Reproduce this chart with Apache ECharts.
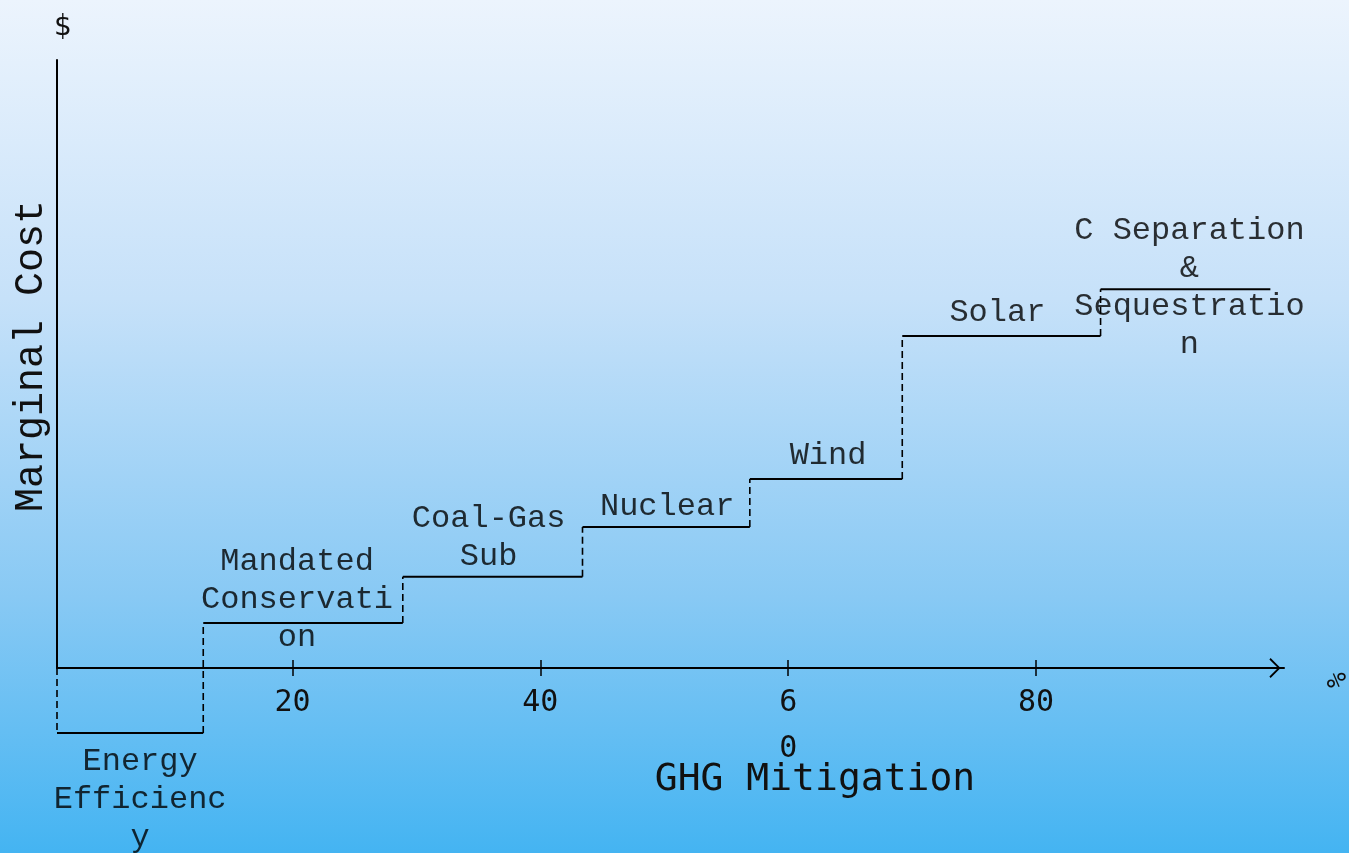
<!DOCTYPE html>
<html><head><meta charset="utf-8">
<script src="https://cdn.jsdelivr.net/npm/echarts@6/dist/echarts.min.js"></script>
<style>
html,body{margin:0;padding:0;width:100%;height:100%;overflow:hidden}
#c{width:1349px;height:853px;background:linear-gradient(to bottom,#ecf4fd 0%,#c6e1f9 35%,#88c9f4 70%,#44b4f2 100%);}
</style></head><body><div id="c"></div>
<script>
// ---- data ----
const techNames = [
  'Energy\nEfficienc\ny',
  'Mandated\nConservati\non',
  'Coal-Gas\nSub',
  'Nuclear',
  'Wind',
  'Solar',
  'C Separation\n&\nSequestratio\nn'
];
const stepBreaks = [1, 12.8, 28.9, 43.4, 56.9, 69.2, 85.2, 98.9];   // % GHG mitigation
const marginalCosts = [-10.7, 7.4, 15.0, 23.2, 31.1, 54.6, 62.3];   // $ (relative)
const tickValues = [20, 40, 60, 80];
const tickLabels = ['20', '40', '6\n0', '80'];

// ---- label styling (not data) ----
const labelStyles = [
  {position: 'bottom', distance: 9, offset: [10, 0]},
  {position: 'inside', offset: [-6, -23]},
  {position: 'top', distance: 1, offset: [-4, 0]},
  {position: 'top', distance: 1, offset: [1, 0]},
  {position: 'top', distance: 4, offset: [2, 0]},
  {position: 'top', distance: 5, offset: [-4, 0]},
  {position: 'inside', offset: [4, -2]}
];

const chart = echarts.init(document.getElementById('c'), null, {renderer: 'canvas'});

const series = [];
// horizontal solid steps
marginalCosts.forEach((c, i) => {
  series.push({
    type: 'line', symbol: 'none', silent: true, clip: false, animation: false,
    lineStyle: {color: '#000', width: 2, type: 'solid'},
    data: [[stepBreaks[i], c], [stepBreaks[i + 1], c]]
  });
});
// vertical dashed risers
marginalCosts.forEach((c, i) => {
  const from = i === 0 ? 0 : marginalCosts[i - 1];
  series.push({
    type: 'line', symbol: 'none', silent: true, clip: false, animation: false,
    lineStyle: {color: '#000', width: 1.6, type: [7, 4]},
    data: [[stepBreaks[i], from], [stepBreaks[i], c]]
  });
});
// labels
series.push({
  type: 'scatter', symbolSize: 0, silent: true, clip: false, animation: false,
  data: techNames.map((name, i) => ({
    value: [(stepBreaks[i] + stepBreaks[i + 1]) / 2, marginalCosts[i]],
    label: Object.assign({
      show: true, formatter: name, color: '#000',
      fontFamily: 'Liberation Mono', fontSize: 32, lineHeight: 38, align: 'center'
    }, labelStyles[i])
  }))
});

const tickMap = {};
tickValues.forEach((v, i) => tickMap[v] = tickLabels[i]);

chart.setOption({
  backgroundColor: 'transparent',
  animation: false,
  grid: {left: 57, right: 65, top: 60, bottom: 185, containLabel: false},
  xAxis: [{
    type: 'value', min: 1, max: 100, position: 'bottom',
    axisLine: {show: true, onZero: false, lineStyle: {color: '#000', width: 2},
      symbol: ['none', 'path://M0,10 L10,0 L20,10 L18.6,11.2 L10,2.6 L1.4,11.2 Z'],
      symbolSize: [20, 14], symbolOffset: [0, -9]},
    axisTick: {show: true, inside: false, length: 8, lineStyle: {color: '#000', width: 1.5},
      customValues: tickValues},
    axisLabel: {show: true, customValues: tickValues, margin: 12,
      formatter: v => tickMap[v] || '', color: '#111',
      fontFamily: 'DejaVu Sans Mono', fontSize: 30, lineHeight: 46},
    splitLine: {show: false}
  }, {
    type: 'value', min: 1, max: 100, position: 'bottom',
    axisLine: {show: false},
    axisTick: {show: true, inside: true, length: 8, lineStyle: {color: '#000', width: 1.5},
      customValues: tickValues},
    axisLabel: {show: false},
    splitLine: {show: false}
  }],
  yAxis: {
    type: 'value', min: 0, max: 100,
    axisLine: {show: true, onZero: false, lineStyle: {color: '#000', width: 2}},
    axisTick: {show: false}, axisLabel: {show: false}, splitLine: {show: false}
  },
  graphic: [
    {type: 'text', x: 63, y: 28, style: {text: '$', fill: '#111', font: '28px "DejaVu Sans"', align: 'center', verticalAlign: 'middle'}},
    {type: 'text', x: 31, y: 356, rotation: Math.PI / 2, style: {text: 'Marginal Cost', fill: '#111', font: '40px "Liberation Mono"', align: 'center', verticalAlign: 'middle'}},
    {type: 'text', x: 815, y: 780, style: {text: 'GHG Mitigation', fill: '#111', font: '38px "DejaVu Sans Mono"', align: 'center', verticalAlign: 'middle'}},
    {type: 'text', x: 1334, y: 680, rotation: -Math.PI / 2, style: {text: '%', fill: '#111', font: '26px "DejaVu Sans Mono"', align: 'center', verticalAlign: 'middle'}}
  ],
  series: series
});
</script>
</body></html>
